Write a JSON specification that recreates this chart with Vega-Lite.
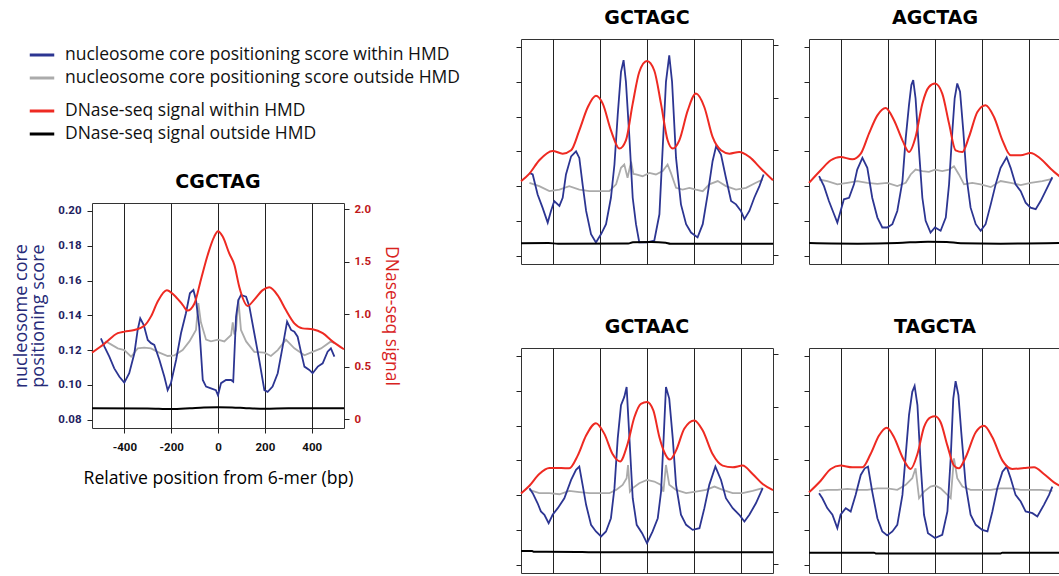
{
"$schema": "https://vega.github.io/schema/vega-lite/v6.json",
"padding": {"left": 12, "top": 8, "right": 0, "bottom": 0},
"datasets": {
"names": [
{"series": "nin", "label": "nucleosome core positioning score within HMD"},
{"series": "nout", "label": "nucleosome core positioning score outside HMD"},
{"series": "din", "label": "DNase-seq signal within HMD"},
{"series": "dout", "label": "DNase-seq signal outside HMD"}
],
"curves": [
{"motif":"CGCTAG","series":"nout","pos":-500,"value":0.122},{"motif":"CGCTAG","series":"nout","pos":-478,"value":0.1249},{"motif":"CGCTAG","series":"nout","pos":-457,"value":0.1233},{"motif":"CGCTAG","series":"nout","pos":-428,"value":0.121},{"motif":"CGCTAG","series":"nout","pos":-400,"value":0.12},{"motif":"CGCTAG","series":"nout","pos":-371,"value":0.1162},{"motif":"CGCTAG","series":"nout","pos":-343,"value":0.121},{"motif":"CGCTAG","series":"nout","pos":-315,"value":0.1214},{"motif":"CGCTAG","series":"nout","pos":-286,"value":0.121},{"motif":"CGCTAG","series":"nout","pos":-258,"value":0.119},{"motif":"CGCTAG","series":"nout","pos":-215,"value":0.1166},{"motif":"CGCTAG","series":"nout","pos":-186,"value":0.117},{"motif":"CGCTAG","series":"nout","pos":-151,"value":0.12},{"motif":"CGCTAG","series":"nout","pos":-122,"value":0.125},{"motif":"CGCTAG","series":"nout","pos":-94,"value":0.1316},{"motif":"CGCTAG","series":"nout","pos":-84,"value":0.147},{"motif":"CGCTAG","series":"nout","pos":-73,"value":0.136},{"motif":"CGCTAG","series":"nout","pos":-51,"value":0.126},{"motif":"CGCTAG","series":"nout","pos":-30,"value":0.125},{"motif":"CGCTAG","series":"nout","pos":0,"value":0.126},{"motif":"CGCTAG","series":"nout","pos":27,"value":0.125},{"motif":"CGCTAG","series":"nout","pos":56,"value":0.1287},{"motif":"CGCTAG","series":"nout","pos":63,"value":0.136},{"motif":"CGCTAG","series":"nout","pos":70,"value":0.129},{"motif":"CGCTAG","series":"nout","pos":77,"value":0.1316},{"motif":"CGCTAG","series":"nout","pos":87,"value":0.149},{"motif":"CGCTAG","series":"nout","pos":98,"value":0.1316},{"motif":"CGCTAG","series":"nout","pos":120,"value":0.125},{"motif":"CGCTAG","series":"nout","pos":155,"value":0.119},{"motif":"CGCTAG","series":"nout","pos":198,"value":0.1185},{"motif":"CGCTAG","series":"nout","pos":226,"value":0.1166},{"motif":"CGCTAG","series":"nout","pos":255,"value":0.12},{"motif":"CGCTAG","series":"nout","pos":290,"value":0.126},{"motif":"CGCTAG","series":"nout","pos":326,"value":0.121},{"motif":"CGCTAG","series":"nout","pos":369,"value":0.117},{"motif":"CGCTAG","series":"nout","pos":404,"value":0.119},{"motif":"CGCTAG","series":"nout","pos":440,"value":0.121},{"motif":"CGCTAG","series":"nout","pos":482,"value":0.125},{"motif":"CGCTAG","series":"nout","pos":497,"value":0.124},
{"motif":"CGCTAG","series":"nin","pos":-500,"value":0.1268},{"motif":"CGCTAG","series":"nin","pos":-485,"value":0.122},{"motif":"CGCTAG","series":"nin","pos":-464,"value":0.1162},{"motif":"CGCTAG","series":"nin","pos":-443,"value":0.1095},{"motif":"CGCTAG","series":"nin","pos":-421,"value":0.1047},{"motif":"CGCTAG","series":"nin","pos":-400,"value":0.1013},{"motif":"CGCTAG","series":"nin","pos":-379,"value":0.1067},{"motif":"CGCTAG","series":"nin","pos":-357,"value":0.1182},{"motif":"CGCTAG","series":"nin","pos":-343,"value":0.1316},{"motif":"CGCTAG","series":"nin","pos":-332,"value":0.1383},{"motif":"CGCTAG","series":"nin","pos":-317,"value":0.1344},{"motif":"CGCTAG","series":"nin","pos":-300,"value":0.1258},{"motif":"CGCTAG","series":"nin","pos":-286,"value":0.124},{"motif":"CGCTAG","series":"nin","pos":-272,"value":0.123},{"motif":"CGCTAG","series":"nin","pos":-250,"value":0.1143},{"motif":"CGCTAG","series":"nin","pos":-229,"value":0.1047},{"motif":"CGCTAG","series":"nin","pos":-215,"value":0.097},{"motif":"CGCTAG","series":"nin","pos":-201,"value":0.101},{"motif":"CGCTAG","series":"nin","pos":-179,"value":0.1143},{"motif":"CGCTAG","series":"nin","pos":-158,"value":0.1297},{"motif":"CGCTAG","series":"nin","pos":-137,"value":0.1412},{"motif":"CGCTAG","series":"nin","pos":-120,"value":0.1527},{"motif":"CGCTAG","series":"nin","pos":-105,"value":0.1546},{"motif":"CGCTAG","series":"nin","pos":-94,"value":0.1488},{"motif":"CGCTAG","series":"nin","pos":-80,"value":0.1335},{"motif":"CGCTAG","series":"nin","pos":-65,"value":0.1028},{"motif":"CGCTAG","series":"nin","pos":-51,"value":0.099},{"motif":"CGCTAG","series":"nin","pos":-30,"value":0.098},{"motif":"CGCTAG","series":"nin","pos":-9,"value":0.097},{"motif":"CGCTAG","series":"nin","pos":0,"value":0.094},{"motif":"CGCTAG","series":"nin","pos":13,"value":0.101},{"motif":"CGCTAG","series":"nin","pos":34,"value":0.1028},{"motif":"CGCTAG","series":"nin","pos":56,"value":0.1028},{"motif":"CGCTAG","series":"nin","pos":65,"value":0.1018},{"motif":"CGCTAG","series":"nin","pos":77,"value":0.1392},{"motif":"CGCTAG","series":"nin","pos":87,"value":0.1488},{"motif":"CGCTAG","series":"nin","pos":98,"value":0.1517},{"motif":"CGCTAG","series":"nin","pos":120,"value":0.1507},{"motif":"CGCTAG","series":"nin","pos":134,"value":0.145},{"motif":"CGCTAG","series":"nin","pos":155,"value":0.1297},{"motif":"CGCTAG","series":"nin","pos":176,"value":0.1143},{"motif":"CGCTAG","series":"nin","pos":198,"value":0.097},{"motif":"CGCTAG","series":"nin","pos":212,"value":0.096},{"motif":"CGCTAG","series":"nin","pos":233,"value":0.099},{"motif":"CGCTAG","series":"nin","pos":255,"value":0.1067},{"motif":"CGCTAG","series":"nin","pos":276,"value":0.122},{"motif":"CGCTAG","series":"nin","pos":295,"value":0.1364},{"motif":"CGCTAG","series":"nin","pos":312,"value":0.1316},{"motif":"CGCTAG","series":"nin","pos":326,"value":0.1306},{"motif":"CGCTAG","series":"nin","pos":340,"value":0.1277},{"motif":"CGCTAG","series":"nin","pos":354,"value":0.1191},{"motif":"CGCTAG","series":"nin","pos":369,"value":0.1105},{"motif":"CGCTAG","series":"nin","pos":390,"value":0.1086},{"motif":"CGCTAG","series":"nin","pos":404,"value":0.1067},{"motif":"CGCTAG","series":"nin","pos":426,"value":0.1105},{"motif":"CGCTAG","series":"nin","pos":447,"value":0.1124},{"motif":"CGCTAG","series":"nin","pos":468,"value":0.1191},{"motif":"CGCTAG","series":"nin","pos":482,"value":0.121},{"motif":"CGCTAG","series":"nin","pos":497,"value":0.1162},
{"motif":"CGCTAG","series":"dout","pos":-538,"value":0.105},{"motif":"CGCTAG","series":"dout","pos":-300,"value":0.103},{"motif":"CGCTAG","series":"dout","pos":-200,"value":0.097},{"motif":"CGCTAG","series":"dout","pos":-120,"value":0.105},{"motif":"CGCTAG","series":"dout","pos":-60,"value":0.113},{"motif":"CGCTAG","series":"dout","pos":0,"value":0.115},{"motif":"CGCTAG","series":"dout","pos":60,"value":0.113},{"motif":"CGCTAG","series":"dout","pos":120,"value":0.106},{"motif":"CGCTAG","series":"dout","pos":200,"value":0.1},{"motif":"CGCTAG","series":"dout","pos":300,"value":0.104},{"motif":"CGCTAG","series":"dout","pos":538,"value":0.104},
{"motif":"CGCTAG","series":"din","pos":-538,"value":0.635},{"motif":"CGCTAG","series":"din","pos":-485,"value":0.72},{"motif":"CGCTAG","series":"din","pos":-428,"value":0.82},{"motif":"CGCTAG","series":"din","pos":-400,"value":0.835},{"motif":"CGCTAG","series":"din","pos":-357,"value":0.85},{"motif":"CGCTAG","series":"din","pos":-315,"value":0.89},{"motif":"CGCTAG","series":"din","pos":-286,"value":0.98},{"motif":"CGCTAG","series":"din","pos":-258,"value":1.12},{"motif":"CGCTAG","series":"din","pos":-219,"value":1.23},{"motif":"CGCTAG","series":"din","pos":-186,"value":1.18},{"motif":"CGCTAG","series":"din","pos":-151,"value":1.09},{"motif":"CGCTAG","series":"din","pos":-130,"value":1.035},{"motif":"CGCTAG","series":"din","pos":-101,"value":1.1},{"motif":"CGCTAG","series":"din","pos":-73,"value":1.33},{"motif":"CGCTAG","series":"din","pos":-44,"value":1.565},{"motif":"CGCTAG","series":"din","pos":-16,"value":1.74},{"motif":"CGCTAG","series":"din","pos":0,"value":1.79},{"motif":"CGCTAG","series":"din","pos":20,"value":1.74},{"motif":"CGCTAG","series":"din","pos":48,"value":1.58},{"motif":"CGCTAG","series":"din","pos":70,"value":1.47},{"motif":"CGCTAG","series":"din","pos":91,"value":1.26},{"motif":"CGCTAG","series":"din","pos":127,"value":1.08},{"motif":"CGCTAG","series":"din","pos":155,"value":1.14},{"motif":"CGCTAG","series":"din","pos":191,"value":1.23},{"motif":"CGCTAG","series":"din","pos":219,"value":1.257},{"motif":"CGCTAG","series":"din","pos":255,"value":1.18},{"motif":"CGCTAG","series":"din","pos":290,"value":1.04},{"motif":"CGCTAG","series":"din","pos":326,"value":0.914},{"motif":"CGCTAG","series":"din","pos":361,"value":0.866},{"motif":"CGCTAG","series":"din","pos":404,"value":0.857},{"motif":"CGCTAG","series":"din","pos":447,"value":0.82},{"motif":"CGCTAG","series":"din","pos":490,"value":0.74},{"motif":"CGCTAG","series":"din","pos":538,"value":0.667},

{"motif":"GCTAGC","series":"nout","pos":-502,"value":0.1219},{"motif":"GCTAGC","series":"nout","pos":-460,"value":0.12},{"motif":"GCTAGC","series":"nout","pos":-417,"value":0.1171},{"motif":"GCTAGC","series":"nout","pos":-374,"value":0.118},{"motif":"GCTAGC","series":"nout","pos":-332,"value":0.12},{"motif":"GCTAGC","series":"nout","pos":-289,"value":0.118},{"motif":"GCTAGC","series":"nout","pos":-246,"value":0.1171},{"motif":"GCTAGC","series":"nout","pos":-204,"value":0.1171},{"motif":"GCTAGC","series":"nout","pos":-161,"value":0.1171},{"motif":"GCTAGC","series":"nout","pos":-132,"value":0.121},{"motif":"GCTAGC","series":"nout","pos":-111,"value":0.1305},{"motif":"GCTAGC","series":"nout","pos":-97,"value":0.1324},{"motif":"GCTAGC","series":"nout","pos":-83,"value":0.1248},{"motif":"GCTAGC","series":"nout","pos":-68,"value":0.134},{"motif":"GCTAGC","series":"nout","pos":-58,"value":0.127},{"motif":"GCTAGC","series":"nout","pos":-47,"value":0.1267},{"motif":"GCTAGC","series":"nout","pos":-19,"value":0.1257},{"motif":"GCTAGC","series":"nout","pos":10,"value":0.1276},{"motif":"GCTAGC","series":"nout","pos":38,"value":0.1267},{"motif":"GCTAGC","series":"nout","pos":67,"value":0.1286},{"motif":"GCTAGC","series":"nout","pos":88,"value":0.1324},{"motif":"GCTAGC","series":"nout","pos":102,"value":0.1276},{"motif":"GCTAGC","series":"nout","pos":124,"value":0.119},{"motif":"GCTAGC","series":"nout","pos":152,"value":0.118},{"motif":"GCTAGC","series":"nout","pos":181,"value":0.119},{"motif":"GCTAGC","series":"nout","pos":209,"value":0.118},{"motif":"GCTAGC","series":"nout","pos":238,"value":0.1171},{"motif":"GCTAGC","series":"nout","pos":266,"value":0.121},{"motif":"GCTAGC","series":"nout","pos":302,"value":0.1229},{"motif":"GCTAGC","series":"nout","pos":337,"value":0.12},{"motif":"GCTAGC","series":"nout","pos":380,"value":0.118},{"motif":"GCTAGC","series":"nout","pos":423,"value":0.119},{"motif":"GCTAGC","series":"nout","pos":465,"value":0.1219},{"motif":"GCTAGC","series":"nout","pos":494,"value":0.1238},
{"motif":"GCTAGC","series":"nin","pos":-502,"value":0.1276},{"motif":"GCTAGC","series":"nin","pos":-488,"value":0.1267},{"motif":"GCTAGC","series":"nin","pos":-467,"value":0.1152},{"motif":"GCTAGC","series":"nin","pos":-446,"value":0.1076},{"motif":"GCTAGC","series":"nin","pos":-424,"value":0.099},{"motif":"GCTAGC","series":"nin","pos":-410,"value":0.1057},{"motif":"GCTAGC","series":"nin","pos":-396,"value":0.1114},{"motif":"GCTAGC","series":"nin","pos":-374,"value":0.1086},{"motif":"GCTAGC","series":"nin","pos":-360,"value":0.1133},{"motif":"GCTAGC","series":"nin","pos":-346,"value":0.1267},{"motif":"GCTAGC","series":"nin","pos":-324,"value":0.1371},{"motif":"GCTAGC","series":"nin","pos":-303,"value":0.14},{"motif":"GCTAGC","series":"nin","pos":-289,"value":0.1362},{"motif":"GCTAGC","series":"nin","pos":-275,"value":0.121},{"motif":"GCTAGC","series":"nin","pos":-260,"value":0.1057},{"motif":"GCTAGC","series":"nin","pos":-239,"value":0.0924},{"motif":"GCTAGC","series":"nin","pos":-218,"value":0.0876},{"motif":"GCTAGC","series":"nin","pos":-196,"value":0.0924},{"motif":"GCTAGC","series":"nin","pos":-175,"value":0.0981},{"motif":"GCTAGC","series":"nin","pos":-154,"value":0.1133},{"motif":"GCTAGC","series":"nin","pos":-139,"value":0.1324},{"motif":"GCTAGC","series":"nin","pos":-125,"value":0.161},{"motif":"GCTAGC","series":"nin","pos":-111,"value":0.1857},{"motif":"GCTAGC","series":"nin","pos":-100,"value":0.1924},{"motif":"GCTAGC","series":"nin","pos":-90,"value":0.18},{"motif":"GCTAGC","series":"nin","pos":-75,"value":0.1476},{"motif":"GCTAGC","series":"nin","pos":-61,"value":0.1133},{"motif":"GCTAGC","series":"nin","pos":-47,"value":0.0981},{"motif":"GCTAGC","series":"nin","pos":-33,"value":0.0876},{"motif":"GCTAGC","series":"nin","pos":0,"value":0.0876},{"motif":"GCTAGC","series":"nin","pos":31,"value":0.0886},{"motif":"GCTAGC","series":"nin","pos":53,"value":0.1038},{"motif":"GCTAGC","series":"nin","pos":67,"value":0.1419},{"motif":"GCTAGC","series":"nin","pos":81,"value":0.18},{"motif":"GCTAGC","series":"nin","pos":95,"value":0.1952},{"motif":"GCTAGC","series":"nin","pos":107,"value":0.18},{"motif":"GCTAGC","series":"nin","pos":124,"value":0.1362},{"motif":"GCTAGC","series":"nin","pos":145,"value":0.1095},{"motif":"GCTAGC","series":"nin","pos":167,"value":0.0981},{"motif":"GCTAGC","series":"nin","pos":188,"value":0.0933},{"motif":"GCTAGC","series":"nin","pos":216,"value":0.0905},{"motif":"GCTAGC","series":"nin","pos":238,"value":0.0981},{"motif":"GCTAGC","series":"nin","pos":259,"value":0.1152},{"motif":"GCTAGC","series":"nin","pos":280,"value":0.1343},{"motif":"GCTAGC","series":"nin","pos":295,"value":0.1429},{"motif":"GCTAGC","series":"nin","pos":316,"value":0.1381},{"motif":"GCTAGC","series":"nin","pos":337,"value":0.1248},{"motif":"GCTAGC","series":"nin","pos":359,"value":0.1114},{"motif":"GCTAGC","series":"nin","pos":380,"value":0.1095},{"motif":"GCTAGC","series":"nin","pos":401,"value":0.1057},{"motif":"GCTAGC","series":"nin","pos":416,"value":0.101},{"motif":"GCTAGC","series":"nin","pos":437,"value":0.1057},{"motif":"GCTAGC","series":"nin","pos":458,"value":0.1133},{"motif":"GCTAGC","series":"nin","pos":480,"value":0.12},{"motif":"GCTAGC","series":"nin","pos":498,"value":0.1267},
{"motif":"GCTAGC","series":"dout","pos":-538,"value":0.115},{"motif":"GCTAGC","series":"dout","pos":-420,"value":0.117},{"motif":"GCTAGC","series":"dout","pos":-380,"value":0.11},{"motif":"GCTAGC","series":"dout","pos":-80,"value":0.112},{"motif":"GCTAGC","series":"dout","pos":-60,"value":0.125},{"motif":"GCTAGC","series":"dout","pos":20,"value":0.127},{"motif":"GCTAGC","series":"dout","pos":80,"value":0.12},{"motif":"GCTAGC","series":"dout","pos":100,"value":0.11},{"motif":"GCTAGC","series":"dout","pos":538,"value":0.11},
{"motif":"GCTAGC","series":"din","pos":-538,"value":0.705},{"motif":"GCTAGC","series":"din","pos":-502,"value":0.778},{"motif":"GCTAGC","series":"din","pos":-460,"value":0.905},{"motif":"GCTAGC","series":"din","pos":-403,"value":0.994},{"motif":"GCTAGC","series":"din","pos":-360,"value":0.968},{"motif":"GCTAGC","series":"din","pos":-324,"value":1.0},{"motif":"GCTAGC","series":"din","pos":-289,"value":1.19},{"motif":"GCTAGC","series":"din","pos":-253,"value":1.41},{"motif":"GCTAGC","series":"din","pos":-218,"value":1.52},{"motif":"GCTAGC","series":"din","pos":-189,"value":1.444},{"motif":"GCTAGC","series":"din","pos":-154,"value":1.19},{"motif":"GCTAGC","series":"din","pos":-118,"value":1.016},{"motif":"GCTAGC","series":"din","pos":-90,"value":1.095},{"motif":"GCTAGC","series":"din","pos":-61,"value":1.444},{"motif":"GCTAGC","series":"din","pos":-33,"value":1.746},{"motif":"GCTAGC","series":"din","pos":0,"value":1.85},{"motif":"GCTAGC","series":"din","pos":31,"value":1.76},{"motif":"GCTAGC","series":"din","pos":60,"value":1.44},{"motif":"GCTAGC","series":"din","pos":88,"value":1.095},{"motif":"GCTAGC","series":"din","pos":110,"value":1.016},{"motif":"GCTAGC","series":"din","pos":138,"value":1.095},{"motif":"GCTAGC","series":"din","pos":174,"value":1.38},{"motif":"GCTAGC","series":"din","pos":209,"value":1.54},{"motif":"GCTAGC","series":"din","pos":245,"value":1.41},{"motif":"GCTAGC","series":"din","pos":280,"value":1.127},{"motif":"GCTAGC","series":"din","pos":316,"value":1.0},{"motif":"GCTAGC","series":"din","pos":352,"value":0.968},{"motif":"GCTAGC","series":"din","pos":394,"value":0.984},{"motif":"GCTAGC","series":"din","pos":437,"value":0.937},{"motif":"GCTAGC","series":"din","pos":487,"value":0.825},{"motif":"GCTAGC","series":"din","pos":538,"value":0.714},

{"motif":"AGCTAG","series":"nout","pos":-495,"value":0.1238},{"motif":"AGCTAG","series":"nout","pos":-460,"value":0.1229},{"motif":"AGCTAG","series":"nout","pos":-417,"value":0.121},{"motif":"AGCTAG","series":"nout","pos":-374,"value":0.1219},{"motif":"AGCTAG","series":"nout","pos":-332,"value":0.1229},{"motif":"AGCTAG","series":"nout","pos":-289,"value":0.1219},{"motif":"AGCTAG","series":"nout","pos":-246,"value":0.1213},{"motif":"AGCTAG","series":"nout","pos":-204,"value":0.1219},{"motif":"AGCTAG","series":"nout","pos":-161,"value":0.12},{"motif":"AGCTAG","series":"nout","pos":-125,"value":0.1219},{"motif":"AGCTAG","series":"nout","pos":-104,"value":0.1267},{"motif":"AGCTAG","series":"nout","pos":-83,"value":0.1295},{"motif":"AGCTAG","series":"nout","pos":-54,"value":0.1286},{"motif":"AGCTAG","series":"nout","pos":-26,"value":0.1282},{"motif":"AGCTAG","series":"nout","pos":0,"value":0.1295},{"motif":"AGCTAG","series":"nout","pos":31,"value":0.1286},{"motif":"AGCTAG","series":"nout","pos":60,"value":0.1295},{"motif":"AGCTAG","series":"nout","pos":81,"value":0.1314},{"motif":"AGCTAG","series":"nout","pos":102,"value":0.1267},{"motif":"AGCTAG","series":"nout","pos":124,"value":0.121},{"motif":"AGCTAG","series":"nout","pos":159,"value":0.1219},{"motif":"AGCTAG","series":"nout","pos":195,"value":0.121},{"motif":"AGCTAG","series":"nout","pos":238,"value":0.1194},{"motif":"AGCTAG","series":"nout","pos":280,"value":0.1229},{"motif":"AGCTAG","series":"nout","pos":323,"value":0.1219},{"motif":"AGCTAG","series":"nout","pos":366,"value":0.1206},{"motif":"AGCTAG","series":"nout","pos":408,"value":0.1219},{"motif":"AGCTAG","series":"nout","pos":458,"value":0.1229},{"motif":"AGCTAG","series":"nout","pos":501,"value":0.1242},
{"motif":"AGCTAG","series":"nin","pos":-495,"value":0.1257},{"motif":"AGCTAG","series":"nin","pos":-474,"value":0.12},{"motif":"AGCTAG","series":"nin","pos":-453,"value":0.1114},{"motif":"AGCTAG","series":"nin","pos":-431,"value":0.1038},{"motif":"AGCTAG","series":"nin","pos":-417,"value":0.099},{"motif":"AGCTAG","series":"nin","pos":-403,"value":0.1057},{"motif":"AGCTAG","series":"nin","pos":-389,"value":0.1124},{"motif":"AGCTAG","series":"nin","pos":-367,"value":0.1133},{"motif":"AGCTAG","series":"nin","pos":-346,"value":0.121},{"motif":"AGCTAG","series":"nin","pos":-332,"value":0.1295},{"motif":"AGCTAG","series":"nin","pos":-310,"value":0.1362},{"motif":"AGCTAG","series":"nin","pos":-289,"value":0.1305},{"motif":"AGCTAG","series":"nin","pos":-268,"value":0.1133},{"motif":"AGCTAG","series":"nin","pos":-246,"value":0.1019},{"motif":"AGCTAG","series":"nin","pos":-225,"value":0.0962},{"motif":"AGCTAG","series":"nin","pos":-204,"value":0.0962},{"motif":"AGCTAG","series":"nin","pos":-182,"value":0.0981},{"motif":"AGCTAG","series":"nin","pos":-161,"value":0.1057},{"motif":"AGCTAG","series":"nin","pos":-139,"value":0.1229},{"motif":"AGCTAG","series":"nin","pos":-125,"value":0.1476},{"motif":"AGCTAG","series":"nin","pos":-111,"value":0.1667},{"motif":"AGCTAG","series":"nin","pos":-101,"value":0.1781},{"motif":"AGCTAG","series":"nin","pos":-93,"value":0.181},{"motif":"AGCTAG","series":"nin","pos":-83,"value":0.1705},{"motif":"AGCTAG","series":"nin","pos":-68,"value":0.14},{"motif":"AGCTAG","series":"nin","pos":-54,"value":0.1133},{"motif":"AGCTAG","series":"nin","pos":-40,"value":0.1},{"motif":"AGCTAG","series":"nin","pos":-19,"value":0.0933},{"motif":"AGCTAG","series":"nin","pos":0,"value":0.0962},{"motif":"AGCTAG","series":"nin","pos":24,"value":0.0943},{"motif":"AGCTAG","series":"nin","pos":46,"value":0.1019},{"motif":"AGCTAG","series":"nin","pos":60,"value":0.121},{"motif":"AGCTAG","series":"nin","pos":74,"value":0.1514},{"motif":"AGCTAG","series":"nin","pos":84,"value":0.1705},{"motif":"AGCTAG","series":"nin","pos":95,"value":0.179},{"motif":"AGCTAG","series":"nin","pos":107,"value":0.1743},{"motif":"AGCTAG","series":"nin","pos":121,"value":0.1514},{"motif":"AGCTAG","series":"nin","pos":135,"value":0.1248},{"motif":"AGCTAG","series":"nin","pos":152,"value":0.1076},{"motif":"AGCTAG","series":"nin","pos":174,"value":0.0981},{"motif":"AGCTAG","series":"nin","pos":195,"value":0.0943},{"motif":"AGCTAG","series":"nin","pos":216,"value":0.0981},{"motif":"AGCTAG","series":"nin","pos":238,"value":0.1095},{"motif":"AGCTAG","series":"nin","pos":259,"value":0.121},{"motif":"AGCTAG","series":"nin","pos":280,"value":0.1305},{"motif":"AGCTAG","series":"nin","pos":306,"value":0.1366},{"motif":"AGCTAG","series":"nin","pos":323,"value":0.1305},{"motif":"AGCTAG","series":"nin","pos":344,"value":0.121},{"motif":"AGCTAG","series":"nin","pos":366,"value":0.1171},{"motif":"AGCTAG","series":"nin","pos":387,"value":0.1105},{"motif":"AGCTAG","series":"nin","pos":408,"value":0.1076},{"motif":"AGCTAG","series":"nin","pos":430,"value":0.1067},{"motif":"AGCTAG","series":"nin","pos":451,"value":0.1114},{"motif":"AGCTAG","series":"nin","pos":472,"value":0.1171},{"motif":"AGCTAG","series":"nin","pos":501,"value":0.1251},
{"motif":"AGCTAG","series":"dout","pos":-538,"value":0.117},{"motif":"AGCTAG","series":"dout","pos":-330,"value":0.111},{"motif":"AGCTAG","series":"dout","pos":-160,"value":0.117},{"motif":"AGCTAG","series":"dout","pos":-30,"value":0.13},{"motif":"AGCTAG","series":"dout","pos":50,"value":0.127},{"motif":"AGCTAG","series":"dout","pos":110,"value":0.115},{"motif":"AGCTAG","series":"dout","pos":280,"value":0.111},{"motif":"AGCTAG","series":"dout","pos":538,"value":0.117},
{"motif":"AGCTAG","series":"din","pos":-538,"value":0.69},{"motif":"AGCTAG","series":"din","pos":-488,"value":0.81},{"motif":"AGCTAG","series":"din","pos":-445,"value":0.905},{"motif":"AGCTAG","series":"din","pos":-404,"value":0.937},{"motif":"AGCTAG","series":"din","pos":-353,"value":0.914},{"motif":"AGCTAG","series":"din","pos":-317,"value":0.968},{"motif":"AGCTAG","series":"din","pos":-282,"value":1.159},{"motif":"AGCTAG","series":"din","pos":-246,"value":1.333},{"motif":"AGCTAG","series":"din","pos":-211,"value":1.403},{"motif":"AGCTAG","series":"din","pos":-175,"value":1.286},{"motif":"AGCTAG","series":"din","pos":-139,"value":1.095},{"motif":"AGCTAG","series":"din","pos":-111,"value":0.984},{"motif":"AGCTAG","series":"din","pos":-83,"value":1.127},{"motif":"AGCTAG","series":"din","pos":-54,"value":1.444},{"motif":"AGCTAG","series":"din","pos":-26,"value":1.603},{"motif":"AGCTAG","series":"din","pos":0,"value":1.635},{"motif":"AGCTAG","series":"din","pos":31,"value":1.54},{"motif":"AGCTAG","series":"din","pos":60,"value":1.254},{"motif":"AGCTAG","series":"din","pos":88,"value":1.0},{"motif":"AGCTAG","series":"din","pos":117,"value":0.984},{"motif":"AGCTAG","series":"din","pos":145,"value":1.127},{"motif":"AGCTAG","series":"din","pos":181,"value":1.365},{"motif":"AGCTAG","series":"din","pos":216,"value":1.43},{"motif":"AGCTAG","series":"din","pos":252,"value":1.317},{"motif":"AGCTAG","series":"din","pos":288,"value":1.095},{"motif":"AGCTAG","series":"din","pos":323,"value":0.952},{"motif":"AGCTAG","series":"din","pos":366,"value":0.952},{"motif":"AGCTAG","series":"din","pos":408,"value":0.975},{"motif":"AGCTAG","series":"din","pos":451,"value":0.92},{"motif":"AGCTAG","series":"din","pos":494,"value":0.825},{"motif":"AGCTAG","series":"din","pos":538,"value":0.74},

{"motif":"GCTAAC","series":"nout","pos":-502,"value":0.123},{"motif":"GCTAAC","series":"nout","pos":-460,"value":0.1211},{"motif":"GCTAAC","series":"nout","pos":-417,"value":0.1211},{"motif":"GCTAAC","series":"nout","pos":-374,"value":0.1205},{"motif":"GCTAAC","series":"nout","pos":-332,"value":0.1224},{"motif":"GCTAAC","series":"nout","pos":-289,"value":0.1217},{"motif":"GCTAAC","series":"nout","pos":-246,"value":0.1211},{"motif":"GCTAAC","series":"nout","pos":-204,"value":0.1211},{"motif":"GCTAAC","series":"nout","pos":-161,"value":0.1211},{"motif":"GCTAAC","series":"nout","pos":-132,"value":0.123},{"motif":"GCTAAC","series":"nout","pos":-104,"value":0.1259},{"motif":"GCTAAC","series":"nout","pos":-87,"value":0.1297},{"motif":"GCTAAC","series":"nout","pos":-81,"value":0.1373},{"motif":"GCTAAC","series":"nout","pos":-73,"value":0.122},{"motif":"GCTAAC","series":"nout","pos":-61,"value":0.124},{"motif":"GCTAAC","series":"nout","pos":-33,"value":0.1268},{"motif":"GCTAAC","series":"nout","pos":0,"value":0.1287},{"motif":"GCTAAC","series":"nout","pos":31,"value":0.1278},{"motif":"GCTAAC","series":"nout","pos":60,"value":0.1259},{"motif":"GCTAAC","series":"nout","pos":70,"value":0.122},{"motif":"GCTAAC","series":"nout","pos":81,"value":0.1373},{"motif":"GCTAAC","series":"nout","pos":95,"value":0.1259},{"motif":"GCTAAC","series":"nout","pos":124,"value":0.123},{"motif":"GCTAAC","series":"nout","pos":167,"value":0.1211},{"motif":"GCTAAC","series":"nout","pos":209,"value":0.122},{"motif":"GCTAAC","series":"nout","pos":252,"value":0.123},{"motif":"GCTAAC","series":"nout","pos":288,"value":0.1249},{"motif":"GCTAAC","series":"nout","pos":323,"value":0.123},{"motif":"GCTAAC","series":"nout","pos":366,"value":0.1211},{"motif":"GCTAAC","series":"nout","pos":408,"value":0.1211},{"motif":"GCTAAC","series":"nout","pos":451,"value":0.1224},{"motif":"GCTAAC","series":"nout","pos":494,"value":0.124},
{"motif":"GCTAAC","series":"nin","pos":-502,"value":0.124},{"motif":"GCTAAC","series":"nin","pos":-488,"value":0.1211},{"motif":"GCTAAC","series":"nin","pos":-467,"value":0.1153},{"motif":"GCTAAC","series":"nin","pos":-453,"value":0.1106},{"motif":"GCTAAC","series":"nin","pos":-438,"value":0.1087},{"motif":"GCTAAC","series":"nin","pos":-420,"value":0.1039},{"motif":"GCTAAC","series":"nin","pos":-403,"value":0.1087},{"motif":"GCTAAC","series":"nin","pos":-381,"value":0.1125},{"motif":"GCTAAC","series":"nin","pos":-353,"value":0.1182},{"motif":"GCTAAC","series":"nin","pos":-324,"value":0.1287},{"motif":"GCTAAC","series":"nin","pos":-303,"value":0.1345},{"motif":"GCTAAC","series":"nin","pos":-289,"value":0.1364},{"motif":"GCTAAC","series":"nin","pos":-275,"value":0.1259},{"motif":"GCTAAC","series":"nin","pos":-260,"value":0.1144},{"motif":"GCTAAC","series":"nin","pos":-239,"value":0.1029},{"motif":"GCTAAC","series":"nin","pos":-218,"value":0.0991},{"motif":"GCTAAC","series":"nin","pos":-196,"value":0.0962},{"motif":"GCTAAC","series":"nin","pos":-175,"value":0.0991},{"motif":"GCTAAC","series":"nin","pos":-154,"value":0.1067},{"motif":"GCTAAC","series":"nin","pos":-139,"value":0.124},{"motif":"GCTAAC","series":"nin","pos":-125,"value":0.1526},{"motif":"GCTAAC","series":"nin","pos":-111,"value":0.1717},{"motif":"GCTAAC","series":"nin","pos":-97,"value":0.1765},{"motif":"GCTAAC","series":"nin","pos":-87,"value":0.1822},{"motif":"GCTAAC","series":"nin","pos":-75,"value":0.1526},{"motif":"GCTAAC","series":"nin","pos":-61,"value":0.1182},{"motif":"GCTAAC","series":"nin","pos":-44,"value":0.1029},{"motif":"GCTAAC","series":"nin","pos":-21,"value":0.0981},{"motif":"GCTAAC","series":"nin","pos":0,"value":0.0924},{"motif":"GCTAAC","series":"nin","pos":24,"value":0.0991},{"motif":"GCTAAC","series":"nin","pos":46,"value":0.1067},{"motif":"GCTAAC","series":"nin","pos":60,"value":0.122},{"motif":"GCTAAC","series":"nin","pos":71,"value":0.1526},{"motif":"GCTAAC","series":"nin","pos":81,"value":0.1822},{"motif":"GCTAAC","series":"nin","pos":95,"value":0.1755},{"motif":"GCTAAC","series":"nin","pos":110,"value":0.1526},{"motif":"GCTAAC","series":"nin","pos":124,"value":0.1259},{"motif":"GCTAAC","series":"nin","pos":145,"value":0.1087},{"motif":"GCTAAC","series":"nin","pos":167,"value":0.1029},{"motif":"GCTAAC","series":"nin","pos":195,"value":0.1},{"motif":"GCTAAC","series":"nin","pos":224,"value":0.101},{"motif":"GCTAAC","series":"nin","pos":245,"value":0.1125},{"motif":"GCTAAC","series":"nin","pos":266,"value":0.1259},{"motif":"GCTAAC","series":"nin","pos":292,"value":0.1364},{"motif":"GCTAAC","series":"nin","pos":316,"value":0.1287},{"motif":"GCTAAC","series":"nin","pos":337,"value":0.1182},{"motif":"GCTAAC","series":"nin","pos":366,"value":0.1125},{"motif":"GCTAAC","series":"nin","pos":394,"value":0.1087},{"motif":"GCTAAC","series":"nin","pos":416,"value":0.1048},{"motif":"GCTAAC","series":"nin","pos":437,"value":0.1087},{"motif":"GCTAAC","series":"nin","pos":465,"value":0.1153},{"motif":"GCTAAC","series":"nin","pos":494,"value":0.124},
{"motif":"GCTAAC","series":"dout","pos":-538,"value":0.127},{"motif":"GCTAAC","series":"dout","pos":-490,"value":0.127},{"motif":"GCTAAC","series":"dout","pos":-485,"value":0.12},{"motif":"GCTAAC","series":"dout","pos":-300,"value":0.118},{"motif":"GCTAAC","series":"dout","pos":-250,"value":0.115},{"motif":"GCTAAC","series":"dout","pos":538,"value":0.115},
{"motif":"GCTAAC","series":"din","pos":-538,"value":0.675},{"motif":"GCTAAC","series":"din","pos":-502,"value":0.748},{"motif":"GCTAAC","series":"din","pos":-460,"value":0.86},{"motif":"GCTAAC","series":"din","pos":-417,"value":0.917},{"motif":"GCTAAC","series":"din","pos":-367,"value":0.917},{"motif":"GCTAAC","series":"din","pos":-332,"value":0.914},{"motif":"GCTAAC","series":"din","pos":-296,"value":1.035},{"motif":"GCTAAC","series":"din","pos":-260,"value":1.226},{"motif":"GCTAAC","series":"din","pos":-218,"value":1.344},{"motif":"GCTAAC","series":"din","pos":-182,"value":1.242},{"motif":"GCTAAC","series":"din","pos":-147,"value":1.05},{"motif":"GCTAAC","series":"din","pos":-115,"value":0.98},{"motif":"GCTAAC","series":"din","pos":-83,"value":1.146},{"motif":"GCTAAC","series":"din","pos":-54,"value":1.4},{"motif":"GCTAAC","series":"din","pos":-26,"value":1.529},{"motif":"GCTAAC","series":"din","pos":0,"value":1.545},{"motif":"GCTAAC","series":"din","pos":27,"value":1.465},{"motif":"GCTAAC","series":"din","pos":53,"value":1.21},{"motif":"GCTAAC","series":"din","pos":74,"value":1.067},{"motif":"GCTAAC","series":"din","pos":98,"value":0.997},{"motif":"GCTAAC","series":"din","pos":124,"value":1.083},{"motif":"GCTAAC","series":"din","pos":159,"value":1.29},{"motif":"GCTAAC","series":"din","pos":202,"value":1.37},{"motif":"GCTAAC","series":"din","pos":238,"value":1.274},{"motif":"GCTAAC","series":"din","pos":280,"value":1.05},{"motif":"GCTAAC","series":"din","pos":323,"value":0.94},{"motif":"GCTAAC","series":"din","pos":366,"value":0.924},{"motif":"GCTAAC","series":"din","pos":408,"value":0.94},{"motif":"GCTAAC","series":"din","pos":451,"value":0.86},{"motif":"GCTAAC","series":"din","pos":494,"value":0.764},{"motif":"GCTAAC","series":"din","pos":538,"value":0.707},

{"motif":"TAGCTA","series":"nout","pos":-495,"value":0.1224},{"motif":"TAGCTA","series":"nout","pos":-460,"value":0.123},{"motif":"TAGCTA","series":"nout","pos":-417,"value":0.123},{"motif":"TAGCTA","series":"nout","pos":-374,"value":0.1236},{"motif":"TAGCTA","series":"nout","pos":-332,"value":0.123},{"motif":"TAGCTA","series":"nout","pos":-289,"value":0.123},{"motif":"TAGCTA","series":"nout","pos":-246,"value":0.1239},{"motif":"TAGCTA","series":"nout","pos":-204,"value":0.1239},{"motif":"TAGCTA","series":"nout","pos":-161,"value":0.123},{"motif":"TAGCTA","series":"nout","pos":-125,"value":0.1259},{"motif":"TAGCTA","series":"nout","pos":-97,"value":0.1297},{"motif":"TAGCTA","series":"nout","pos":-83,"value":0.1354},{"motif":"TAGCTA","series":"nout","pos":-68,"value":0.1182},{"motif":"TAGCTA","series":"nout","pos":-47,"value":0.122},{"motif":"TAGCTA","series":"nout","pos":-19,"value":0.1249},{"motif":"TAGCTA","series":"nout","pos":0,"value":0.1255},{"motif":"TAGCTA","series":"nout","pos":24,"value":0.1239},{"motif":"TAGCTA","series":"nout","pos":53,"value":0.1201},{"motif":"TAGCTA","series":"nout","pos":67,"value":0.1182},{"motif":"TAGCTA","series":"nout","pos":81,"value":0.1411},{"motif":"TAGCTA","series":"nout","pos":95,"value":0.1297},{"motif":"TAGCTA","series":"nout","pos":117,"value":0.1249},{"motif":"TAGCTA","series":"nout","pos":152,"value":0.123},{"motif":"TAGCTA","series":"nout","pos":195,"value":0.123},{"motif":"TAGCTA","series":"nout","pos":238,"value":0.123},{"motif":"TAGCTA","series":"nout","pos":280,"value":0.1239},{"motif":"TAGCTA","series":"nout","pos":323,"value":0.1239},{"motif":"TAGCTA","series":"nout","pos":366,"value":0.123},{"motif":"TAGCTA","series":"nout","pos":408,"value":0.123},{"motif":"TAGCTA","series":"nout","pos":451,"value":0.123},{"motif":"TAGCTA","series":"nout","pos":501,"value":0.1224},
{"motif":"TAGCTA","series":"nin","pos":-495,"value":0.1211},{"motif":"TAGCTA","series":"nin","pos":-481,"value":0.1182},{"motif":"TAGCTA","series":"nin","pos":-460,"value":0.1125},{"motif":"TAGCTA","series":"nin","pos":-438,"value":0.1087},{"motif":"TAGCTA","series":"nin","pos":-417,"value":0.101},{"motif":"TAGCTA","series":"nin","pos":-403,"value":0.1087},{"motif":"TAGCTA","series":"nin","pos":-381,"value":0.1125},{"motif":"TAGCTA","series":"nin","pos":-360,"value":0.1106},{"motif":"TAGCTA","series":"nin","pos":-339,"value":0.1201},{"motif":"TAGCTA","series":"nin","pos":-317,"value":0.1316},{"motif":"TAGCTA","series":"nin","pos":-300,"value":0.1354},{"motif":"TAGCTA","series":"nin","pos":-286,"value":0.1364},{"motif":"TAGCTA","series":"nin","pos":-268,"value":0.122},{"motif":"TAGCTA","series":"nin","pos":-246,"value":0.1067},{"motif":"TAGCTA","series":"nin","pos":-225,"value":0.0991},{"motif":"TAGCTA","series":"nin","pos":-204,"value":0.0968},{"motif":"TAGCTA","series":"nin","pos":-182,"value":0.0991},{"motif":"TAGCTA","series":"nin","pos":-161,"value":0.1029},{"motif":"TAGCTA","series":"nin","pos":-139,"value":0.1201},{"motif":"TAGCTA","series":"nin","pos":-125,"value":0.1431},{"motif":"TAGCTA","series":"nin","pos":-111,"value":0.166},{"motif":"TAGCTA","series":"nin","pos":-97,"value":0.1794},{"motif":"TAGCTA","series":"nin","pos":-87,"value":0.1828},{"motif":"TAGCTA","series":"nin","pos":-75,"value":0.1717},{"motif":"TAGCTA","series":"nin","pos":-61,"value":0.1373},{"motif":"TAGCTA","series":"nin","pos":-47,"value":0.1087},{"motif":"TAGCTA","series":"nin","pos":-30,"value":0.0981},{"motif":"TAGCTA","series":"nin","pos":0,"value":0.0953},{"motif":"TAGCTA","series":"nin","pos":31,"value":0.0972},{"motif":"TAGCTA","series":"nin","pos":53,"value":0.1106},{"motif":"TAGCTA","series":"nin","pos":67,"value":0.1411},{"motif":"TAGCTA","series":"nin","pos":78,"value":0.1755},{"motif":"TAGCTA","series":"nin","pos":88,"value":0.1855},{"motif":"TAGCTA","series":"nin","pos":100,"value":0.1775},{"motif":"TAGCTA","series":"nin","pos":112,"value":0.1564},{"motif":"TAGCTA","series":"nin","pos":131,"value":0.1259},{"motif":"TAGCTA","series":"nin","pos":152,"value":0.1087},{"motif":"TAGCTA","series":"nin","pos":174,"value":0.1029},{"motif":"TAGCTA","series":"nin","pos":202,"value":0.1},{"motif":"TAGCTA","series":"nin","pos":224,"value":0.0991},{"motif":"TAGCTA","series":"nin","pos":245,"value":0.1106},{"motif":"TAGCTA","series":"nin","pos":266,"value":0.1239},{"motif":"TAGCTA","series":"nin","pos":288,"value":0.1335},{"motif":"TAGCTA","series":"nin","pos":306,"value":0.1364},{"motif":"TAGCTA","series":"nin","pos":323,"value":0.1297},{"motif":"TAGCTA","series":"nin","pos":344,"value":0.1201},{"motif":"TAGCTA","series":"nin","pos":366,"value":0.1163},{"motif":"TAGCTA","series":"nin","pos":387,"value":0.1106},{"motif":"TAGCTA","series":"nin","pos":416,"value":0.1096},{"motif":"TAGCTA","series":"nin","pos":437,"value":0.1077},{"motif":"TAGCTA","series":"nin","pos":465,"value":0.1144},{"motif":"TAGCTA","series":"nin","pos":487,"value":0.1201},{"motif":"TAGCTA","series":"nin","pos":501,"value":0.1249},
{"motif":"TAGCTA","series":"dout","pos":-538,"value":0.111},{"motif":"TAGCTA","series":"dout","pos":-260,"value":0.111},{"motif":"TAGCTA","series":"dout","pos":-253,"value":0.102},{"motif":"TAGCTA","series":"dout","pos":280,"value":0.102},{"motif":"TAGCTA","series":"dout","pos":287,"value":0.111},{"motif":"TAGCTA","series":"dout","pos":538,"value":0.111},
{"motif":"TAGCTA","series":"din","pos":-538,"value":0.685},{"motif":"TAGCTA","series":"din","pos":-488,"value":0.796},{"motif":"TAGCTA","series":"din","pos":-445,"value":0.908},{"motif":"TAGCTA","series":"din","pos":-404,"value":0.94},{"motif":"TAGCTA","series":"din","pos":-353,"value":0.924},{"motif":"TAGCTA","series":"din","pos":-310,"value":0.924},{"motif":"TAGCTA","series":"din","pos":-275,"value":1.05},{"motif":"TAGCTA","series":"din","pos":-239,"value":1.226},{"motif":"TAGCTA","series":"din","pos":-206,"value":1.3},{"motif":"TAGCTA","series":"din","pos":-175,"value":1.21},{"motif":"TAGCTA","series":"din","pos":-139,"value":1.02},{"motif":"TAGCTA","series":"din","pos":-104,"value":0.908},{"motif":"TAGCTA","series":"din","pos":-75,"value":1.05},{"motif":"TAGCTA","series":"din","pos":-47,"value":1.306},{"motif":"TAGCTA","series":"din","pos":-19,"value":1.4},{"motif":"TAGCTA","series":"din","pos":0,"value":1.41},{"motif":"TAGCTA","series":"din","pos":24,"value":1.353},{"motif":"TAGCTA","series":"din","pos":53,"value":1.13},{"motif":"TAGCTA","series":"din","pos":81,"value":0.94},{"motif":"TAGCTA","series":"din","pos":102,"value":0.914},{"motif":"TAGCTA","series":"din","pos":131,"value":1.02},{"motif":"TAGCTA","series":"din","pos":174,"value":1.258},{"motif":"TAGCTA","series":"din","pos":209,"value":1.32},{"motif":"TAGCTA","series":"din","pos":245,"value":1.21},{"motif":"TAGCTA","series":"din","pos":288,"value":0.987},{"motif":"TAGCTA","series":"din","pos":330,"value":0.908},{"motif":"TAGCTA","series":"din","pos":380,"value":0.917},{"motif":"TAGCTA","series":"din","pos":423,"value":0.924},{"motif":"TAGCTA","series":"din","pos":465,"value":0.86},{"motif":"TAGCTA","series":"din","pos":508,"value":0.78},{"motif":"TAGCTA","series":"din","pos":538,"value":0.74}
]
},
"data": {"name": "curves"},
"transform": [{"lookup": "series", "from": {"data": {"name": "names"}, "key": "series", "fields": ["label"]}}],
"config": {
"view": {"stroke": "#333", "strokeWidth": 1},
"axis": {"domain": false, "tickColor": "#222", "tickSize": 5, "gridColor": "#222", "gridWidth": 1, "gridOpacity": 1, "labelFont": "Roboto", "labelFontWeight": "bold", "labelFontSize": 11.5, "titleFont": "Open Sans", "titleFontWeight": "normal", "titleFontSize": 17.5},
"title": {"font": "DejaVu Sans", "fontSize": 19, "fontWeight": "bold", "color": "#000", "anchor": "middle", "offset": 11},
"legend": {"symbolType": "stroke", "symbolStrokeWidth": 3, "symbolSize": 600, "labelFont": "Open Sans", "labelFontSize": 17.5, "labelColor": "#111", "labelOffset": 9, "labelLimit": 600}
},
"spacing": 114,
"resolve": {"scale": {"color": "shared", "stroke": "shared"}, "legend": {"color": "shared", "stroke": "shared"}},
"hconcat": [
{"spacing": 31,
 "resolve": {"scale": {"color": "shared", "stroke": "shared"}, "legend": {"color": "shared", "stroke": "shared"}},
 "vconcat": [
 {"data": {"values": []}, "mark": "point", "width": 252, "height": 102, "view": {"stroke": null}},
 {"title": "CGCTAG", "width": 252, "height": 225,
  "encoding": {
   "x": {"field": "pos", "type": "quantitative", "scale": {"domain": [-538, 538]}, "axis": {"values": [-400, -200, 0, 200, 400], "grid": true, "title": "Relative position from 6-mer (bp)", "titleColor": "#000", "titleFontSize": 17.6, "titlePadding": 17, "labelColor": "#111", "labelPadding": 8, "labelExpr": "(datum.value < 0 ? '-' : '') + abs(datum.value)"}}
  },
  "layer": [
  {"transform": [{"filter": "datum.motif === 'CGCTAG' && (datum.series === 'nin' || datum.series === 'nout')"}],
   "mark": {"type": "line", "strokeWidth": 1.8},
   "encoding": {
    "y": {"field": "value", "type": "quantitative", "scale": {"domain": [0.0752, 0.2046]}, "axis": {"values": [0.08, 0.1, 0.12, 0.14, 0.16, 0.18, 0.2], "format": ".2f", "grid": false, "title": ["nucleosome core", "positioning score"], "titleColor": "#262a78", "titleFontSize": 18, "titleLineHeight": 17, "titlePadding": 10, "labelColor": "#1e2160", "labelPadding": 6}},
    "color": {"field": "label", "type": "nominal", "scale": {"domain": ["nucleosome core positioning score within HMD", "nucleosome core positioning score outside HMD"], "range": ["#2c3592", "#ababab"]}, "legend": {"orient": "none", "legendX": -64, "legendY": 2, "title": null, "rowPadding": -6}}
   }},
  {"transform": [{"filter": "datum.motif === 'CGCTAG' && (datum.series === 'din' || datum.series === 'dout')"}],
   "mark": {"type": "line", "strokeWidth": 2, "interpolate": "monotone"},
   "encoding": {
    "y": {"field": "value", "type": "quantitative", "scale": {"domain": [-0.083, 2.06]}, "axis": {"orient": "right", "values": [0, 0.5, 1, 1.5, 2], "grid": false, "labelExpr": "datum.value == 0 ? '0' : format(datum.value, '.1f')", "title": "DNase-seq signal", "titleColor": "#d8231e", "titlePadding": 11, "labelColor": "#c0181a", "labelPadding": 5}},
    "stroke": {"field": "label", "type": "nominal", "scale": {"domain": ["DNase-seq signal within HMD", "DNase-seq signal outside HMD"], "range": ["#ee2a22", "#000000"]}, "legend": {"orient": "none", "legendX": -64, "legendY": 58, "title": null, "rowPadding": -10}}
   }}
  ],
  "resolve": {"scale": {"y": "independent"}}
 }
 ]
},
{"spacing": 52,
 "resolve": {"scale": {"color": "shared", "stroke": "shared"}, "legend": {"color": "shared", "stroke": "shared"}},
 "vconcat": [
 {"spacing": 24,
  "resolve": {"scale": {"color": "shared", "stroke": "shared"}, "legend": {"color": "shared", "stroke": "shared"}},
  "hconcat": [
  {"title": "GCTAGC", "width": 252, "height": 225,
   "encoding": {"x": {"field": "pos", "type": "quantitative", "scale": {"domain": [-538, 538]}, "axis": {"values": [-400, -200, 0, 200, 400], "grid": true, "labels": false, "ticks": false, "title": null}}},
   "layer": [
   {"transform": [{"filter": "datum.motif === 'GCTAGC' && (datum.series === 'nin' || datum.series === 'nout')"}],
    "mark": {"type": "line", "strokeWidth": 1.8},
    "encoding": {
     "y": {"field": "value", "type": "quantitative", "scale": {"domain": [0.0752, 0.2046]}, "axis": {"values": [0.08, 0.1, 0.12, 0.14, 0.16, 0.18, 0.2], "grid": false, "labels": false, "title": null}},
     "color": {"field": "label", "type": "nominal", "scale": {"domain": ["nucleosome core positioning score within HMD", "nucleosome core positioning score outside HMD"], "range": ["#2c3592", "#ababab"]}}
    }},
   {"transform": [{"filter": "datum.motif === 'GCTAGC' && (datum.series === 'din' || datum.series === 'dout')"}],
    "mark": {"type": "line", "strokeWidth": 2, "interpolate": "monotone"},
    "encoding": {
     "y": {"field": "value", "type": "quantitative", "scale": {"domain": [-0.083, 2.06]}, "axis": {"orient": "right", "values": [0, 0.5, 1, 1.5, 2], "grid": false, "labels": false, "title": null}},
     "stroke": {"field": "label", "type": "nominal", "scale": {"domain": ["DNase-seq signal within HMD", "DNase-seq signal outside HMD"], "range": ["#ee2a22", "#000000"]}}
    }}
   ],
   "resolve": {"scale": {"y": "independent"}}
  },
  {"title": "AGCTAG", "width": 252, "height": 225,
   "encoding": {"x": {"field": "pos", "type": "quantitative", "scale": {"domain": [-538, 538]}, "axis": {"values": [-400, -200, 0, 200, 400], "grid": true, "labels": false, "ticks": false, "title": null}}},
   "layer": [
   {"transform": [{"filter": "datum.motif === 'AGCTAG' && (datum.series === 'nin' || datum.series === 'nout')"}],
    "mark": {"type": "line", "strokeWidth": 1.8},
    "encoding": {
     "y": {"field": "value", "type": "quantitative", "scale": {"domain": [0.0752, 0.2046]}, "axis": {"values": [0.08, 0.1, 0.12, 0.14, 0.16, 0.18, 0.2], "grid": false, "labels": false, "title": null}},
     "color": {"field": "label", "type": "nominal", "scale": {"domain": ["nucleosome core positioning score within HMD", "nucleosome core positioning score outside HMD"], "range": ["#2c3592", "#ababab"]}}
    }},
   {"transform": [{"filter": "datum.motif === 'AGCTAG' && (datum.series === 'din' || datum.series === 'dout')"}],
    "mark": {"type": "line", "strokeWidth": 2, "interpolate": "monotone"},
    "encoding": {
     "y": {"field": "value", "type": "quantitative", "scale": {"domain": [-0.083, 2.06]}, "axis": {"orient": "right", "values": [0, 0.5, 1, 1.5, 2], "grid": false, "labels": false, "title": null}},
     "stroke": {"field": "label", "type": "nominal", "scale": {"domain": ["DNase-seq signal within HMD", "DNase-seq signal outside HMD"], "range": ["#ee2a22", "#000000"]}}
    }}
   ],
   "resolve": {"scale": {"y": "independent"}}
  }
  ]
 },
 {"spacing": 24,
  "resolve": {"scale": {"color": "shared", "stroke": "shared"}, "legend": {"color": "shared", "stroke": "shared"}},
  "hconcat": [
  {"title": "GCTAAC", "width": 252, "height": 225,
   "encoding": {"x": {"field": "pos", "type": "quantitative", "scale": {"domain": [-538, 538]}, "axis": {"values": [-400, -200, 0, 200, 400], "grid": true, "labels": false, "ticks": false, "title": null}}},
   "layer": [
   {"transform": [{"filter": "datum.motif === 'GCTAAC' && (datum.series === 'nin' || datum.series === 'nout')"}],
    "mark": {"type": "line", "strokeWidth": 1.8},
    "encoding": {
     "y": {"field": "value", "type": "quantitative", "scale": {"domain": [0.0752, 0.2046]}, "axis": {"values": [0.08, 0.1, 0.12, 0.14, 0.16, 0.18, 0.2], "grid": false, "labels": false, "title": null}},
     "color": {"field": "label", "type": "nominal", "scale": {"domain": ["nucleosome core positioning score within HMD", "nucleosome core positioning score outside HMD"], "range": ["#2c3592", "#ababab"]}}
    }},
   {"transform": [{"filter": "datum.motif === 'GCTAAC' && (datum.series === 'din' || datum.series === 'dout')"}],
    "mark": {"type": "line", "strokeWidth": 2, "interpolate": "monotone"},
    "encoding": {
     "y": {"field": "value", "type": "quantitative", "scale": {"domain": [-0.083, 2.06]}, "axis": {"orient": "right", "values": [0, 0.5, 1, 1.5, 2], "grid": false, "labels": false, "title": null}},
     "stroke": {"field": "label", "type": "nominal", "scale": {"domain": ["DNase-seq signal within HMD", "DNase-seq signal outside HMD"], "range": ["#ee2a22", "#000000"]}}
    }}
   ],
   "resolve": {"scale": {"y": "independent"}}
  },
  {"title": "TAGCTA", "width": 252, "height": 225,
   "encoding": {"x": {"field": "pos", "type": "quantitative", "scale": {"domain": [-538, 538]}, "axis": {"values": [-400, -200, 0, 200, 400], "grid": true, "labels": false, "ticks": false, "title": null}}},
   "layer": [
   {"transform": [{"filter": "datum.motif === 'TAGCTA' && (datum.series === 'nin' || datum.series === 'nout')"}],
    "mark": {"type": "line", "strokeWidth": 1.8},
    "encoding": {
     "y": {"field": "value", "type": "quantitative", "scale": {"domain": [0.0752, 0.2046]}, "axis": {"values": [0.08, 0.1, 0.12, 0.14, 0.16, 0.18, 0.2], "grid": false, "labels": false, "title": null}},
     "color": {"field": "label", "type": "nominal", "scale": {"domain": ["nucleosome core positioning score within HMD", "nucleosome core positioning score outside HMD"], "range": ["#2c3592", "#ababab"]}}
    }},
   {"transform": [{"filter": "datum.motif === 'TAGCTA' && (datum.series === 'din' || datum.series === 'dout')"}],
    "mark": {"type": "line", "strokeWidth": 2, "interpolate": "monotone"},
    "encoding": {
     "y": {"field": "value", "type": "quantitative", "scale": {"domain": [-0.083, 2.06]}, "axis": {"orient": "right", "values": [0, 0.5, 1, 1.5, 2], "grid": false, "labels": false, "title": null}},
     "stroke": {"field": "label", "type": "nominal", "scale": {"domain": ["DNase-seq signal within HMD", "DNase-seq signal outside HMD"], "range": ["#ee2a22", "#000000"]}}
    }}
   ],
   "resolve": {"scale": {"y": "independent"}}
  }
  ]
 }
 ]
}
]
}
